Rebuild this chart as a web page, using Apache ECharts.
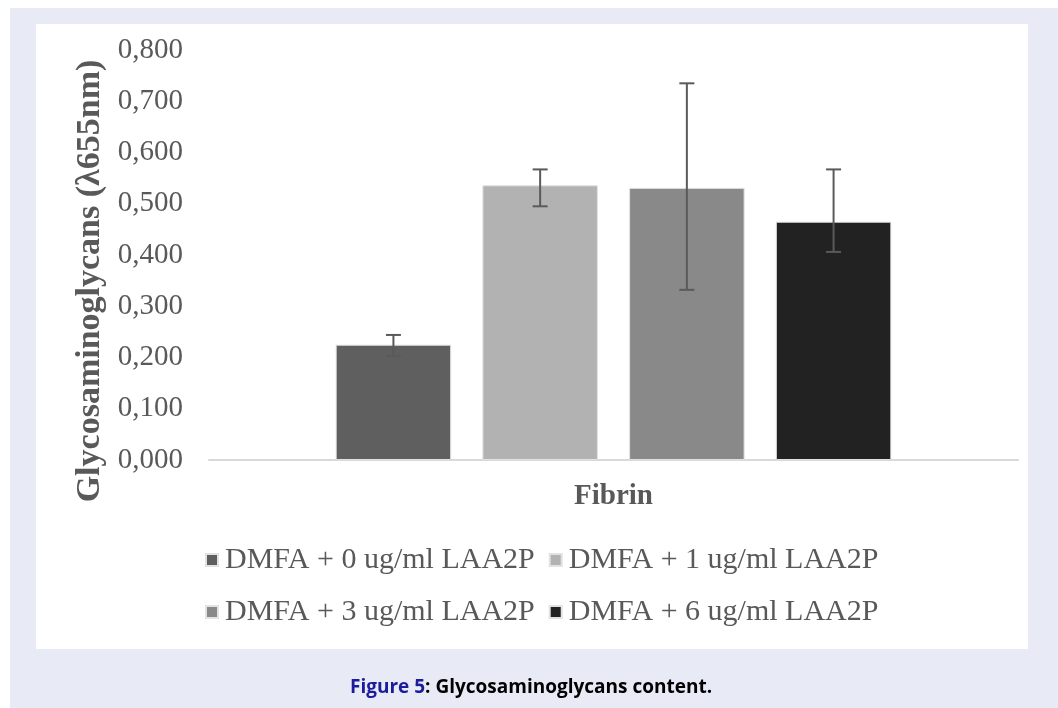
<!DOCTYPE html>
<html>
<head>
<meta charset="utf-8">
<script src="https://cdn.jsdelivr.net/npm/echarts@6/dist/echarts.min.js"></script>
<style>
  html, body { margin: 0; padding: 0; background: #ffffff; }
  #chart { width: 1058px; height: 708px; }
</style>
</head>
<body>
<div id="chart"></div>
<script>
// ---- Data ----
const categories = ['Fibrin'];
const seriesNames = [
  'DMFA + 0 ug/ml LAA2P',
  'DMFA + 1 ug/ml LAA2P',
  'DMFA + 3 ug/ml LAA2P',
  'DMFA + 6 ug/ml LAA2P'
];
const values  = [0.225, 0.536, 0.531, 0.465];
const errLow  = [0.203, 0.495, 0.332, 0.406];
const errHigh = [0.244, 0.567, 0.735, 0.567];
const barColors = ['#5f5f5f', '#b2b2b2', '#898989', '#222222'];

// ---- Layout ----
const BAR_PCT = 0.1428;   // bar width as a fraction of the category band
const GAP_PCT = 0.27;     // gap between bars as a fraction of bar width
const TEXT = '#595959';
const SERIF = '"Liberation Serif", "Times New Roman", serif';

const chart = echarts.init(document.getElementById('chart'), null, { renderer: 'canvas' });

const barSeries = seriesNames.map((name, i) => ({
  name: name,
  type: 'bar',
  data: [values[i]],
  barWidth: (BAR_PCT * 100) + '%',
  barGap: (GAP_PCT * 100) + '%',
  itemStyle: { color: barColors[i], borderColor: '#e2e2e2', borderWidth: 1 },
  emphasis: { disabled: true },
  z: 2
}));

const errSeries = {
  type: 'custom',
  name: 'error',
  z: 5,
  silent: true,
  encode: { x: 0, y: [1, 2] },
  data: values.map((v, i) => [0, errLow[i], errHigh[i], i]),
  renderItem: function (params, api) {
    const cat = api.value(0);
    const idx = api.value(3);
    const lo = api.coord([cat, api.value(1)]);
    const hi = api.coord([cat, api.value(2)]);
    const band = api.size([1, 0])[0];
    const bw = band * BAR_PCT;
    const gap = bw * GAP_PCT;
    const n = seriesNames.length;
    const total = n * bw + (n - 1) * gap;
    const x = lo[0] - total / 2 + idx * (bw + gap) + bw / 2;
    const cap = 7.5;
    const style = { stroke: '#5a5a5a', lineWidth: 2 };
    return {
      type: 'group',
      children: [
        { type: 'line', shape: { x1: x, y1: lo[1], x2: x, y2: hi[1] }, style: style },
        { type: 'line', shape: { x1: x - cap, y1: lo[1], x2: x + cap, y2: lo[1] }, style: style },
        { type: 'line', shape: { x1: x - cap, y1: hi[1], x2: x + cap, y2: hi[1] }, style: style }
      ]
    };
  }
};

const legendCommon = {
  icon: 'rect',
  itemWidth: 12,
  itemHeight: 12,
  itemGap: 14,
  padding: 0,
  orient: 'horizontal',
  selectedMode: false,
  textStyle: { color: TEXT, fontFamily: SERIF, fontSize: 30, lineHeight: 34, padding: [0, 0, 0, 2] }
};

const option = {
  animation: false,
  backgroundColor: 'transparent',
  graphic: [
    { type: 'rect', z: -10, shape: { x: 10, y: 8, width: 1048, height: 700 }, style: { fill: '#e8ebf6' }, silent: true },
    { type: 'rect', z: -9, shape: { x: 36, y: 24, width: 992, height: 625 }, style: { fill: '#ffffff' }, silent: true },
    {
      type: 'text', z: 10, left: 350, top: 678,
      style: {
        text: '{b|Figure 5}{k|: Glycosaminoglycans content.}',
        rich: {
          b: { fill: '#1b1b9c', fontFamily: '"Open Sans", sans-serif', fontWeight: 'bold', fontSize: 19 },
          k: { fill: '#000000', fontFamily: '"Open Sans", sans-serif', fontWeight: 'bold', fontSize: 19 }
        }
      }
    }
  ],
  legend: [
    Object.assign({}, legendCommon, { left: 205, top: 543, data: [seriesNames[0], seriesNames[1]] }),
    Object.assign({}, legendCommon, { left: 205, top: 595, data: [seriesNames[2], seriesNames[3]] })
  ],
  grid: { left: 209, right: 40, top: 50, bottom: 248, containLabel: false },
  xAxis: {
    type: 'category',
    data: categories,
    axisLine: { show: true, lineStyle: { color: '#d9d9d9', width: 2 } },
    axisTick: { show: false },
    axisLabel: { color: TEXT, fontFamily: SERIF, fontWeight: 'bold', fontSize: 29, margin: 22 }
  },
  yAxis: {
    type: 'value',
    min: 0,
    max: 0.8,
    interval: 0.1,
    name: 'Glycosaminoglycans (λ655nm)',
    nameLocation: 'middle',
    nameRotate: 90,
    nameGap: 99,
    nameTextStyle: { color: TEXT, fontFamily: SERIF, fontWeight: 'bold', fontSize: 34, padding: [0, 52, 0, 0] },
    axisLine: { show: false },
    axisTick: { show: false },
    splitLine: { show: false },
    axisLabel: {
      color: TEXT, fontFamily: SERIF, fontSize: 29, margin: 26,
      formatter: v => v.toFixed(3).replace('.', ',')
    }
  },
  series: barSeries.concat([errSeries])
};

chart.setOption(option);
</script>
</body>
</html>
